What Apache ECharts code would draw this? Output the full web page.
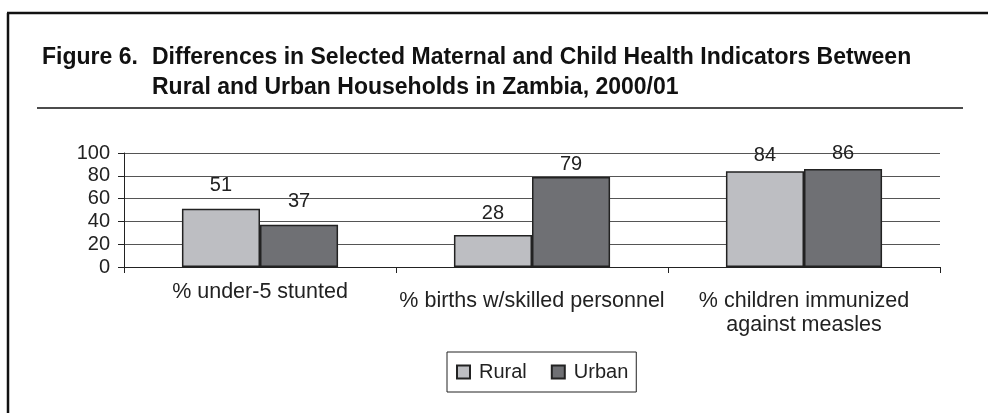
<!DOCTYPE html>
<html>
<head>
<meta charset="utf-8">
<script src="https://cdn.jsdelivr.net/npm/echarts@6/dist/echarts.min.js"></script>
<style>
  html, body { margin: 0; padding: 0; background: #fff; }
  #chart { width: 988px; height: 413px; }
</style>
</head>
<body>
<div id="chart"></div>
<script>
const categories = [
  '% under-5 stunted',
  '% births w/skilled personnel',
  '% children immunized\nagainst measles'
]
const rural = [51, 28, 84]
const urban = [37, 79, 86]
const yTicks = [0, 20, 40, 60, 80, 100]

// label lift above each bar, as placed in the original figure
const ruralLift = [13, 12, 6]
const urbanLift = [13, 2, 5]

const font = '"Liberation Sans", Arial, sans-serif'
const titleFont = '"Liberation Sans Narrow", "Liberation Sans", Arial, sans-serif'
const ink = '#222'

function items(values, lift) {
  return values.map((v, i) => ({ value: v, label: { distance: lift[i] } }))
}

const chart = echarts.init(document.getElementById('chart'), null, { renderer: 'canvas' })

chart.setOption({
  backgroundColor: '#fff',
  animation: false,
  title: [
    {
      text: 'Figure 6.',
      left: 42, top: 43, padding: 0,
      textStyle: { fontFamily: titleFont, fontWeight: 'bold', fontSize: 23, color: '#111', lineHeight: 30 }
    },
    {
      text: 'Differences in Selected Maternal and Child Health Indicators Between\nRural and Urban Households in Zambia, 2000/01',
      left: 152, top: 43, padding: 0,
      textStyle: { fontFamily: titleFont, fontWeight: 'bold', fontSize: 23, color: '#111', lineHeight: 30 }
    }
  ],
  graphic: [
    { type: 'line', shape: { x1: 7, y1: 13, x2: 988, y2: 13 }, style: { stroke: '#111', lineWidth: 2.5 } },
    { type: 'line', shape: { x1: 8, y1: 13, x2: 8, y2: 413 }, style: { stroke: '#111', lineWidth: 2.5 } },
    { type: 'line', shape: { x1: 37, y1: 108, x2: 963, y2: 108 }, style: { stroke: '#111', lineWidth: 1.5 } }
  ],
  legend: {
    left: 447, top: 352,
    padding: [10, 8, 10, 9],
    itemWidth: 13, itemHeight: 13, itemGap: 24,
    icon: 'rect',
    borderColor: ink, borderWidth: 1,
    textStyle: { fontFamily: font, fontSize: 20, color: ink, padding: [0, 0, 0, 4] },
    data: ['Rural', 'Urban']
  },
  grid: { left: 124, right: 48, top: 153, bottom: 146 },
  xAxis: {
    type: 'category',
    data: categories.map((c, i) => i === 0 ? c : { value: c, textStyle: { padding: [9, 0, 0, 0] } }),
    axisLine: { lineStyle: { color: ink, width: 1 } },
    axisTick: { show: true, length: 6, alignWithLabel: false, lineStyle: { color: ink } },
    axisLabel: { fontFamily: font, fontSize: 21.5, color: ink, margin: 13, lineHeight: 24, interval: 0 }
  },
  yAxis: {
    type: 'value',
    min: yTicks[0], max: yTicks[yTicks.length - 1], interval: 20,
    axisLine: { show: true, lineStyle: { color: ink, width: 1 } },
    axisTick: { show: true, length: 6, lineStyle: { color: ink } },
    axisLabel: { fontFamily: font, fontSize: 20, color: ink, margin: 14 },
    splitLine: { lineStyle: { color: '#555', width: 1 } }
  },
  series: [
    {
      name: 'Rural', type: 'bar',
      data: items(rural, ruralLift),
      barGap: '0%', barCategoryGap: '42.6%',
      itemStyle: { color: '#bdbec2', borderColor: ink, borderWidth: 1.5 },
      label: { show: true, position: 'top', fontFamily: font, fontSize: 20, color: ink }
    },
    {
      name: 'Urban', type: 'bar',
      data: items(urban, urbanLift),
      barGap: '0%', barCategoryGap: '42.6%',
      itemStyle: { color: '#6f7074', borderColor: ink, borderWidth: 1.5 },
      label: { show: true, position: 'top', fontFamily: font, fontSize: 20, color: ink }
    }
  ]
})
</script>
</body>
</html>
